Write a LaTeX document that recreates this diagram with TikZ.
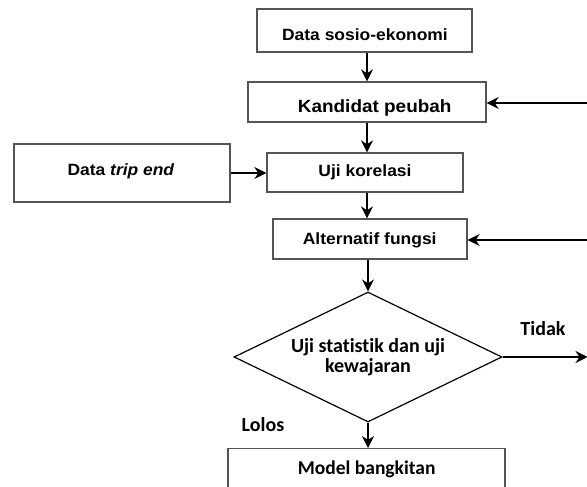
\documentclass[tikz,border=0pt]{standalone}
\usepackage{fontspec}
\setmainfont{Liberation Sans}[FakeStretch=1.07]
\newfontfamily\calfont{Carlito}[Ligatures=NoCommon]
\usetikzlibrary{arrows.meta,shapes.geometric}
\definecolor{boxgray}{HTML}{555555}
\tikzset{
  x=1pt,y=1pt,
  box/.style={draw=boxgray,line width=1.4pt,rectangle,inner sep=0pt},
  arr/.style={-{Stealth[length=12pt,width=12pt,inset=4pt]},line width=1.1pt,black},
  lbl/.style={anchor=base,inner sep=0pt,font=\fontsize{16.3}{19}\selectfont\bfseries},
  cal/.style={font=\calfont\fontsize{20}{20}\selectfont\bfseries},
}
\begin{document}
\begin{tikzpicture}
\useasboundingbox (0,0) rectangle (587,487);
\clip (0,0) rectangle (587,487);
% boxes
\node[box,minimum width=215pt,minimum height=43pt] (b1) at (364.5,456.5) {};
\node[box,minimum width=238pt,minimum height=40pt] (b2) at (367,385) {};
\node[box,minimum width=216pt,minimum height=58pt] (t) at (122,314) {};
\node[box,minimum width=196pt,minimum height=39pt] (u) at (365,314.5) {};
\node[box,minimum width=194pt,minimum height=40pt] (a) at (370,248) {};
\node[diamond,draw=black,line width=1.2pt,minimum width=268pt,minimum height=130pt,
  aspect=2.06,inner sep=0pt,align=center,cal] (d) at (368,130) {Uji statistik dan uji\\kewajaran};
\node[box,minimum width=277pt,minimum height=40pt] (m) at (366.5,18.3) {};
% texts
\node[lbl] (tb1) at (365,446.3) {Data sosio-ekonomi};
\node[lbl,font=\fontsize{17.7}{20}\selectfont\bfseries] (tb2) at (374.7,374) {Kandidat peubah};
\node[lbl] (tt) at (121,311) {Data \textit{trip end}};
\node[lbl] (tu) at (365,310.3) {Uji korelasi};
\node[lbl] (ta) at (369.7,242) {Alternatif fungsi};
\node[cal,anchor=base,inner sep=0pt,font=\calfont\fontsize{19.5}{20}\selectfont\bfseries] (tm) at (366.7,12) {Model bangkitan};
\node[cal,anchor=base] (lolos) at (263,55.3) {Lolos};
\node[cal,anchor=base] (tidak) at (543,151) {Tidak};
% free ends
\coordinate (r1) at (590,384);
\coordinate (r2) at (590,247);
\coordinate (r3) at (587.5,130);
% connectors
\draw[arr] (b1.south -| b2.north) -- (b2.north);
\draw[arr] (b2.south) -- (b2.south |- u.north);
\draw[arr] (u.south -| b2.south) -- (a.north -| b2.south);
\draw[arr] (a.south -| d.north) -- (d.north);
\draw[arr] (d.south) -- (d.south |- m.north);
\draw[arr] (t.east) -- (t.east -| u.west);
\draw[arr] (r1) -- (r1 -| b2.east);
\draw[arr] (r2) -- (r2 -| a.east);
\draw[arr] (d.east) -- (r3);
\end{tikzpicture}
\end{document}
